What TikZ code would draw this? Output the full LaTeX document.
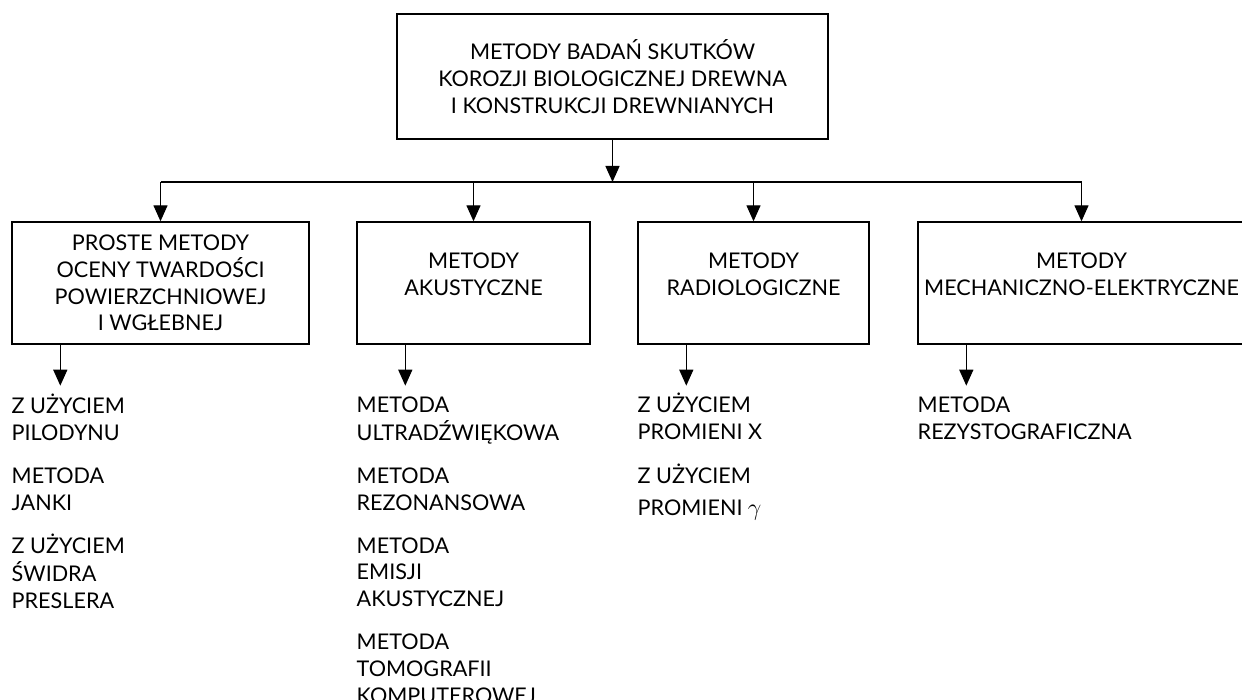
\documentclass[tikz,border=0pt]{standalone}
\usepackage{fontspec}
\setmainfont{Lato}
\usepackage{tikz}
\usetikzlibrary{arrows.meta, calc, positioning}
\definecolor{Ink}{HTML}{000000}
\newcommand{\itemlist}[1]{\begin{tabular}[t]{@{}l@{}}#1\end{tabular}}

\begin{document}
\begin{tikzpicture}[x=0.5pt, y=-0.5pt, font=\fontsize{10.8}{13.4}\selectfont,
  box/.style={draw=Ink, line width=0.7pt, align=center, inner sep=0pt, text=Ink},
  link/.style={draw=Ink, line width=0.7pt, -{Triangle[width=7pt, length=8pt]}},
  list/.style={anchor=base west, inner sep=0pt, text=Ink}]
  \useasboundingbox (0,0) rectangle (1242,700);
  % Root
  \node[box, minimum width=215.5pt, minimum height=62.5pt] (root) at (612.5,76.5)
    {METODY BADAŃ SKUTKÓW\\KOROZJI BIOLOGICZNEJ DREWNA\\I KONSTRUKCJI DREWNIANYCH};
  % Groups
  \node[box, minimum width=148.5pt, minimum height=61pt] (b1) at (160.5,283)
    {PROSTE METODY\\OCENY TWARDOŚCI\\POWIERZCHNIOWEJ\\I WGŁEBNEJ};
  \node[box, minimum width=116.5pt, minimum height=61pt] (b2) at (473.5,283)
    {METODY\\AKUSTYCZNE\\[-4.4pt]\mbox{}};
  \node[box, minimum width=115.5pt, minimum height=61pt] (b3) at (753.5,283)
    {METODY\\RADIOLOGICZNE\\[-4.4pt]\mbox{}};
  \node[box, minimum width=163.5pt, minimum height=61pt] (b4) at (1081.5,283)
    {METODY\\MECHANICZNO-ELEKTRYCZNE\\[-4.4pt]\mbox{}};
  % Bus
  \coordinate (bus) at (612.5,182);
  \draw[link] (root.south) -- (bus);
  \draw[draw=Ink, line width=0.7pt] (b1.north |- bus) -- (b4.north |- bus);
  \foreach \b in {b1,b2,b3,b4}
    \draw[link] (\b.north |- bus) -- (\b.north);
  % Down to lists
  \foreach \b in {b1,b2,b3,b4} {
    \coordinate (\b d) at ($(\b.south west)+(49,41)$);
    \draw[link] (\b d |- \b.south) -- (\b d);
  }
  % Lists
  \node[list] (l1) at ($(b1.south west)+(0,69)$)
    {\itemlist{Z UŻYCIEM\\PILODYNU\\[8pt]METODA\\JANKI\\[8pt]Z UŻYCIEM\\ŚWIDRA\\PRESLERA}};
  \node[list] (l2) at ($(b2.south west)+(0,68)$)
    {\itemlist{METODA\\ULTRADŹWIĘKOWA\\[8pt]METODA\\REZONANSOWA\\[8pt]METODA\\EMISJI\\AKUSTYCZNEJ\\[8pt]METODA\\TOMOGRAFII\\KOMPUTEROWEJ}};
  \node[list] (l3) at ($(b3.south west)+(0,68)$)
    {\itemlist{Z UŻYCIEM\\PROMIENI X\\[8pt]Z UŻYCIEM\\[3pt]PROMIENI {\large$\gamma$}}};
  \node[list] (l4) at ($(b4.south west)+(0,68)$)
    {\itemlist{METODA\\REZYSTOGRAFICZNA}};
\end{tikzpicture}
\end{document}
